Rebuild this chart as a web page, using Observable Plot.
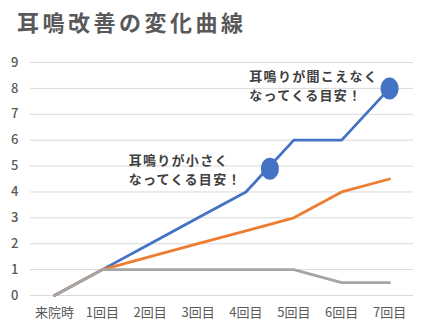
<!DOCTYPE html>
<html>
<head>
<meta charset="utf-8">
<script src="https://cdn.jsdelivr.net/npm/d3@7"></script>
<script src="https://cdn.jsdelivr.net/npm/@observablehq/plot@0.6"></script>
<style>
  html, body { margin: 0; padding: 0; background: #fff; }
  #wrap { position: relative; width: 431px; height: 329px; overflow: hidden; }
  #title { position: absolute; left: 17px; top: 8px; font-family: "Noto Sans CJK JP", sans-serif; font-weight: bold; font-size: 22px; line-height: 26px; letter-spacing: 3.5px; color: #595959; white-space: nowrap; }
  #chart { position: absolute; left: 0; top: 40px; }
  #chart g[aria-label="text"] text { letter-spacing: 1.3px; }
</style>
</head>
<body>
<div id="wrap">
  <div id="title">耳鳴改善の変化曲線</div>
  <div id="chart"></div>
</div>
<script>
const categories = ["来院時", "1回目", "2回目", "3回目", "4回目", "5回目", "6回目", "7回目"];
const blueValues = [0, 1, 2, 3, 4, 6, 6, 8];
const orangeValues = [0, 1, 1.5, 2, 2.5, 3, 4, 4.5];
const grayValues = [0, 1, 1, 1, 1, 1, 0.5, 0.5];
const yTicks = [0, 1, 2, 3, 4, 5, 6, 7, 8, 9];
const markerX = [4.5, 7];
const markerY = [4.9, 8];
const noteTexts = ["耳鳴りが小さく\nなってくる目安！", "耳鳴りが聞こえなく\nなってくる目安！"];
const noteX = [1.55, 4.07];
const noteY = [4.9, 8.15];

const idx = d3.range(categories.length);
const series = [
  {name: "blue", values: blueValues, color: "#4472C4"},
  {name: "orange", values: orangeValues, color: "#ED7D31"},
  {name: "gray", values: grayValues, color: "#A5A5A5"}
];
const markers = markerX.map((x, i) => ({x, y: markerY[i]}));
const notes = noteTexts.map((t, i) => ({t, x: noteX[i], y: noteY[i]}));

const ellipse = {
  draw(ctx) {
    const rx = 9, ry = 11, k = 0.5523;
    ctx.moveTo(rx, 0);
    ctx.bezierCurveTo(rx, ry * k, rx * k, ry, 0, ry);
    ctx.bezierCurveTo(-rx * k, ry, -rx, ry * k, -rx, 0);
    ctx.bezierCurveTo(-rx, -ry * k, -rx * k, -ry, 0, -ry);
    ctx.bezierCurveTo(rx * k, -ry, rx, -ry * k, rx, 0);
    ctx.closePath();
  }
};

const chart = Plot.plot({
  width: 431,
  height: 289,
  marginTop: 22,
  marginBottom: 34,
  marginLeft: 30,
  marginRight: 18,
  style: {fontFamily: "'Noto Sans CJK JP', sans-serif", fontSize: "13px", color: "#595959", background: "#fff"},
  x: {domain: [-0.5, categories.length - 0.5]},
  y: {domain: [0, 9]},
  marks: [
    Plot.ruleY(yTicks, {stroke: "#D9D9D9", strokeWidth: 1, strokeOpacity: 1}),
    Plot.axisY({ticks: yTicks, tickSize: 0, tickPadding: 12, fontSize: 13, fontWeight: 500, label: null}),
    Plot.axisX({ticks: idx, tickFormat: i => categories[i], tickSize: 0, tickPadding: 12, fontSize: 13, label: null}),
    ...series.map(s => Plot.line(idx, {
      x: i => i, y: i => s.values[i],
      stroke: s.color, strokeWidth: 2.8, strokeLinejoin: "round", strokeLinecap: "round"
    })),
    Plot.dot(markers, {x: "x", y: "y", symbol: ellipse, fill: "#4472C4", stroke: "none"}),
    Plot.text(notes, {
      x: "x", y: "y", text: "t", textAnchor: "start", lineAnchor: "middle",
      lineHeight: 1.45, fontSize: 13, fontWeight: "bold", fill: "#404040"
    })
  ]
});
document.getElementById("chart").appendChild(chart);
</script>
</body>
</html>
